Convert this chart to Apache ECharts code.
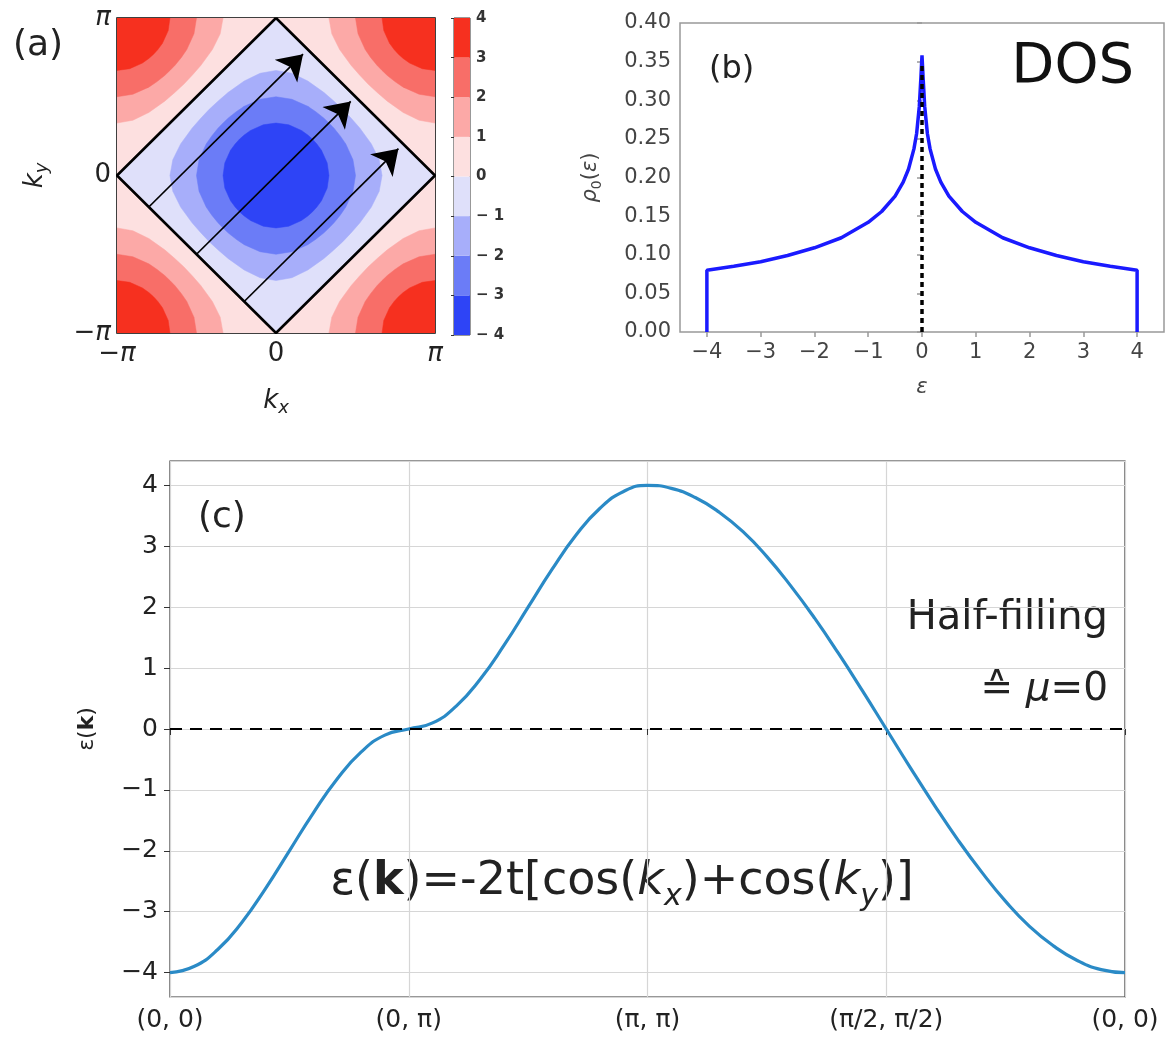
<!DOCTYPE html>
<html>
<head>
<meta charset="utf-8">
<script src="https://cdn.jsdelivr.net/npm/echarts@6/dist/echarts.min.js"></script>
</head>
<body style="margin:0;background:#fff">
<div id="container" style="width:1165px;height:1037px"></div>
<script>
// ---------- (a) dispersion map ----------
var bandEdges = [-4, -3, -2, -1, 0, 1, 2, 3, 4];
var bandColors = ['#2e44f6', '#6b7cf7', '#a7aefa', '#dfe0fa', '#fde0e0', '#fca9a7', '#f86e68', '#f6301f'];
// one quadrant of the closed contours around Gamma, kx/pi, ky/pi
var contourM3 = [[0, 0.333], [0.08, 0.322], [0.16, 0.286], [0.2, 0.257], [0.23, 0.23], [0.257, 0.2], [0.286, 0.16], [0.322, 0.08], [0.333, 0]];
var contourM2 = [[0, 0.5], [0.1, 0.484], [0.2, 0.439], [0.25, 0.405], [0.3, 0.365], [0.333, 0.333], [0.365, 0.3], [0.405, 0.25], [0.439, 0.2], [0.484, 0.1], [0.5, 0]];
var contourM1 = [[0, 0.667], [0.1, 0.649], [0.2, 0.6], [0.3, 0.528], [0.36, 0.476], [0.42, 0.42], [0.476, 0.36], [0.528, 0.3], [0.6, 0.2], [0.649, 0.1], [0.667, 0]];
var diamond = [[0, 1], [1, 0], [0, -1], [-1, 0], [0, 1]];
var arrowPaths = [
  [[-0.8, -0.2], [0.17, 0.77]],
  [[-0.5, -0.5], [0.47, 0.47]],
  [[-0.2, -0.8], [0.77, 0.17]]
];

// ---------- (b) density of states ----------
var dosEps = [-4, -4, -3.5, -3, -2.5, -2, -1.5, -1, -0.75, -0.5, -0.35, -0.25, -0.15, -0.1, -0.05, -0.02, 0,
  0.02, 0.05, 0.1, 0.15, 0.25, 0.35, 0.5, 0.75, 1, 1.5, 2, 2.5, 3, 3.5, 4, 4];
var dosRho = [0, 0.080, 0.085, 0.091, 0.099, 0.109, 0.122, 0.142, 0.156, 0.176, 0.194, 0.211, 0.237, 0.257, 0.292, 0.33, 0.358,
  0.33, 0.292, 0.257, 0.237, 0.211, 0.194, 0.176, 0.156, 0.142, 0.122, 0.109, 0.099, 0.091, 0.085, 0.080, 0];
var dosDashTop = 0.347;

// ---------- (c) band along the path ----------
var pathLabels = ['(0, 0)', '(0, π)', '(π, π)', '(π/2, π/2)', '(0, 0)'];
var pathPos = [0, 0.1, 0.2, 0.3, 0.4, 0.5, 0.6, 0.7, 0.8, 0.9, 1,
  1.1, 1.2, 1.3, 1.4, 1.5, 1.6, 1.7, 1.8, 1.9, 2,
  2.1, 2.2, 2.3, 2.4, 2.5, 2.6, 2.7, 2.8, 2.9, 3,
  3.1, 3.2, 3.3, 3.4, 3.5, 3.6, 3.7, 3.8, 3.9, 4];
var bandE = [-4, -3.90, -3.62, -3.18, -2.62, -2, -1.38, -0.82, -0.38, -0.10, 0,
  0.10, 0.38, 0.82, 1.38, 2, 2.62, 3.18, 3.62, 3.90, 4,
  3.95, 3.80, 3.56, 3.24, 2.83, 2.35, 1.82, 1.24, 0.63, 0,
  -0.63, -1.24, -1.82, -2.35, -2.83, -3.24, -3.56, -3.80, -3.95, -4];

// ---------- build ----------
var FONT = 'DejaVu Sans';
function minus(v) { return v < 0 ? '\u2212' + (-v) : String(v); }

function ring(q) {
  var pts = [];
  q.forEach(function (p) { pts.push([p[0], p[1]]); });
  q.slice().reverse().forEach(function (p) { pts.push([p[0], -p[1]]); });
  q.forEach(function (p) { pts.push([-p[0], -p[1]]); });
  q.slice().reverse().forEach(function (p) { pts.push([-p[0], p[1]]); });
  return pts;
}

var shapes = [{ pts: [[-1, -1], [1, -1], [1, 1], [-1, 1]], color: bandColors[4] }];
[[1, 1], [-1, 1], [-1, -1], [1, -1]].forEach(function (c) {
  [[contourM1, 5], [contourM2, 6], [contourM3, 7]].forEach(function (lv) {
    var pts = [c].concat(lv[0].map(function (p) { return [c[0] * (1 - p[0]), c[1] * (1 - p[1])]; }));
    shapes.push({ pts: pts, color: bandColors[lv[1]] });
  });
});
shapes.push({ pts: diamond, color: bandColors[3] });
shapes.push({ pts: ring(contourM1), color: bandColors[2] });
shapes.push({ pts: ring(contourM2), color: bandColors[1] });
shapes.push({ pts: ring(contourM3), color: bandColors[0] });

var dom = document.getElementById('container');
var myChart = echarts.init(dom, null, { renderer: 'canvas' });

var piLabel = function (v) { return v === 0 ? '0' : (v < 0 ? '\u2212{i|π}' : '{i|π}'); };
var italicRich = { i: { fontStyle: 'italic', fontSize: 26, fontFamily: FONT, color: '#222' } };
var subRich = {
  i: { fontStyle: 'italic', fontSize: 26, lineHeight: 32, color: '#222' },
  s: { fontStyle: 'italic', fontSize: 18, lineHeight: 20, verticalAlign: 'bottom', color: '#222' }
};

var option = {
  backgroundColor: '#fff',
  animation: false,
  textStyle: { fontFamily: FONT },
  grid: [
    { left: 117, top: 18, width: 318, height: 315, show: true, borderColor: '#000', borderWidth: 1.5, backgroundColor: 'transparent' },
    { left: 454, top: 18, width: 16, height: 317, show: true, borderColor: '#333', borderWidth: 1 },
    { left: 680, top: 23, width: 484, height: 309, show: true, borderColor: '#999', borderWidth: 1.5 },
    { left: 170, top: 461, width: 955, height: 536, show: true, borderColor: '#333', borderWidth: 1.2 }
  ],
  xAxis: [
    {
      gridIndex: 0, type: 'value', min: -1, max: 1, interval: 1,
      axisLine: { show: false }, axisTick: { show: false }, splitLine: { show: false },
      axisLabel: { formatter: piLabel, fontSize: 26, color: '#222', margin: 8, rich: italicRich },
      name: '{i|k}{s|x}', nameLocation: 'middle', nameGap: 52,
      nameTextStyle: { rich: subRich }
    },
    { gridIndex: 1, type: 'value', min: 0, max: 1, show: false },
    {
      gridIndex: 2, type: 'value', min: -4.5, max: 4.5, splitNumber: 9,
      axisLine: { show: false }, splitLine: { show: false },
      axisTick: { show: true, length: 5, lineStyle: { color: '#999', width: 1.5 } },
      axisLabel: { formatter: minus, fontSize: 21, color: '#444', margin: 10, showMinLabel: false, showMaxLabel: false },
      name: 'ε', nameLocation: 'middle', nameGap: 45,
      nameTextStyle: { fontSize: 21, fontStyle: 'italic', color: '#444' }
    },
    {
      gridIndex: 3, type: 'value', min: 0, max: 4, interval: 1,
      axisLine: { show: false },
      axisTick: { show: true, length: 6, lineStyle: { color: '#333' } },
      splitLine: { show: true, lineStyle: { color: '#d6d6d6', width: 1.2 } },
      axisLabel: {
        formatter: function (v) { return pathLabels[v]; },
        fontSize: 25, color: '#222', margin: 11
      }
    }
  ],
  yAxis: [
    {
      gridIndex: 0, type: 'value', min: -1, max: 1, interval: 1,
      axisLine: { show: false }, axisTick: { show: false }, splitLine: { show: false },
      axisLabel: { formatter: piLabel, fontSize: 26, color: '#222', margin: 6, rich: italicRich },
      name: '{i|k}{s|y}', nameLocation: 'middle', nameGap: 66,
      nameTextStyle: { rich: subRich }
    },
    {
      gridIndex: 1, type: 'value', min: -4, max: 4, interval: 1, position: 'right',
      axisLine: { show: false }, splitLine: { show: false },
      axisTick: { show: true, inside: true, length: 3, lineStyle: { color: '#333' } },
      axisLabel: {
        formatter: function (v) { return v < 0 ? '\u2212 ' + (-v) : String(v); },
        fontSize: 15, fontWeight: 'bold', color: '#333', margin: 6
      }
    },
    {
      gridIndex: 2, type: 'value', min: 0, max: 0.4, interval: 0.05,
      axisLine: { show: false }, splitLine: { show: false },
      axisTick: { show: true, length: 5, lineStyle: { color: '#999', width: 1.5 } },
      axisLabel: { formatter: function (v) { return v.toFixed(2); }, fontSize: 21, color: '#444', margin: 9 },
      name: '{r|ρ}{s|0}{n|(}{r|ε}{n|)}', nameLocation: 'middle', nameGap: 76,
      nameTextStyle: {
        rich: {
          r: { fontStyle: 'italic', fontSize: 21, lineHeight: 26, color: '#444' },
          n: { fontSize: 21, lineHeight: 26, color: '#444' },
          s: { fontSize: 14, lineHeight: 16, verticalAlign: 'bottom', color: '#444' }
        }
      }
    },
    {
      gridIndex: 3, type: 'value', min: -4.4, max: 4.4, splitNumber: 8,
      axisLine: { show: false },
      axisTick: { show: true, length: 6, lineStyle: { color: '#333' } },
      splitLine: { show: true, lineStyle: { color: '#d6d6d6', width: 1.2 } },
      axisLabel: { formatter: minus, fontSize: 25, color: '#222', margin: 12, showMinLabel: false, showMaxLabel: false },
      name: 'ε({b|k})', nameLocation: 'middle', nameGap: 72,
      nameTextStyle: { fontSize: 22, color: '#222', rich: { b: { fontWeight: 'bold', fontSize: 22, color: '#222' } } }
    }
  ],
  series: [
    {
      type: 'custom', xAxisIndex: 0, yAxisIndex: 0, clip: true, silent: true,
      data: shapes.map(function () { return [0, 0]; }),
      renderItem: function (params, api) {
        var s = shapes[params.dataIndex];
        return {
          type: 'polygon',
          shape: { points: s.pts.map(function (p) { return api.coord(p); }) },
          style: { fill: s.color, stroke: s.color, lineWidth: 0.5 }
        };
      }
    },
    {
      type: 'line', xAxisIndex: 0, yAxisIndex: 0, data: diamond, symbol: 'none',
      lineStyle: { color: '#000', width: 2.6 }, z: 5
    },
    {
      type: 'lines', coordinateSystem: 'cartesian2d', xAxisIndex: 0, yAxisIndex: 0,
      symbol: ['none', 'arrow'], symbolSize: 24, z: 6,
      lineStyle: { color: '#000', width: 1.7, opacity: 1 },
      data: arrowPaths.map(function (a) { return { coords: a }; })
    },
    {
      type: 'custom', xAxisIndex: 1, yAxisIndex: 1, silent: true,
      data: bandColors.map(function (c, i) { return [bandEdges[i], bandEdges[i + 1]]; }),
      renderItem: function (params, api) {
        var lo = api.coord([0, api.value(0)]);
        var hi = api.coord([1, api.value(1)]);
        return {
          type: 'rect',
          shape: { x: lo[0], y: hi[1], width: hi[0] - lo[0], height: lo[1] - hi[1] },
          style: { fill: bandColors[params.dataIndex] }
        };
      }
    },
    {
      type: 'line', xAxisIndex: 2, yAxisIndex: 2, symbol: 'none',
      data: dosEps.map(function (e, i) { return [e, dosRho[i]]; }),
      lineStyle: { color: '#1a1aff', width: 3.5 }
    },
    {
      type: 'line', xAxisIndex: 2, yAxisIndex: 2, symbol: 'none',
      data: [[0, 0], [0, dosDashTop]],
      lineStyle: { color: '#000', width: 3.5, type: [5, 4] }, z: 3
    },
    {
      type: 'line', xAxisIndex: 3, yAxisIndex: 3, symbol: 'none', smooth: true,
      data: pathPos.map(function (x, i) { return [x, bandE[i]]; }),
      lineStyle: { color: '#2a8ac6', width: 3.2 }
    },
    {
      type: 'line', xAxisIndex: 3, yAxisIndex: 3, symbol: 'none',
      data: [[0, 0], [4, 0]],
      lineStyle: { color: '#000', width: 2, type: [12, 8] }, z: 3
    }
  ],
  graphic: [
    { type: 'text', x: 13, y: 46, style: { text: '(a)', fontSize: 36, fontFamily: FONT, fill: '#222', verticalAlign: 'middle' } },
    { type: 'text', x: 709, y: 70, style: { text: '(b)', fontSize: 32, fontFamily: FONT, fill: '#222', verticalAlign: 'middle' } },
    { type: 'text', x: 1134, y: 67, style: { text: 'DOS', fontSize: 56, fontFamily: FONT, fill: '#111', align: 'right', verticalAlign: 'middle' } },
    { type: 'text', x: 198, y: 518, style: { text: '(c)', fontSize: 36, fontFamily: FONT, fill: '#222', verticalAlign: 'middle' } },
    { type: 'text', x: 1108, y: 619, style: { text: 'Half-filling', fontSize: 40, fontFamily: FONT, fill: '#222', align: 'right', verticalAlign: 'middle' } },
    {
      type: 'text', x: 1108, y: 690,
      style: {
        text: '≙ {i|μ}=0', fontSize: 39, fontFamily: FONT, fill: '#222', align: 'right', verticalAlign: 'middle',
        rich: { i: { fontStyle: 'italic', fontSize: 39, fontFamily: FONT, fill: '#222' } }
      }
    },
    {
      type: 'text', x: 622, y: 882,
      style: {
        text: 'ε({b|k})=-2t[cos({i|k}{s|x})+cos({i|k}{s|y})]',
        fontSize: 46, lineHeight: 60, fontFamily: FONT, fill: '#222', align: 'center', verticalAlign: 'middle',
        rich: {
          b: { fontWeight: 'bold', fontSize: 46, lineHeight: 60, fontFamily: FONT, fill: '#222' },
          i: { fontStyle: 'italic', fontSize: 46, lineHeight: 60, fontFamily: FONT, fill: '#222' },
          s: { fontStyle: 'italic', fontSize: 30, lineHeight: 28, verticalAlign: 'bottom', fontFamily: FONT, fill: '#222' }
        }
      }
    }
  ]
};

myChart.setOption(option);
window.addEventListener('resize', myChart.resize);
</script>
</body>
</html>
